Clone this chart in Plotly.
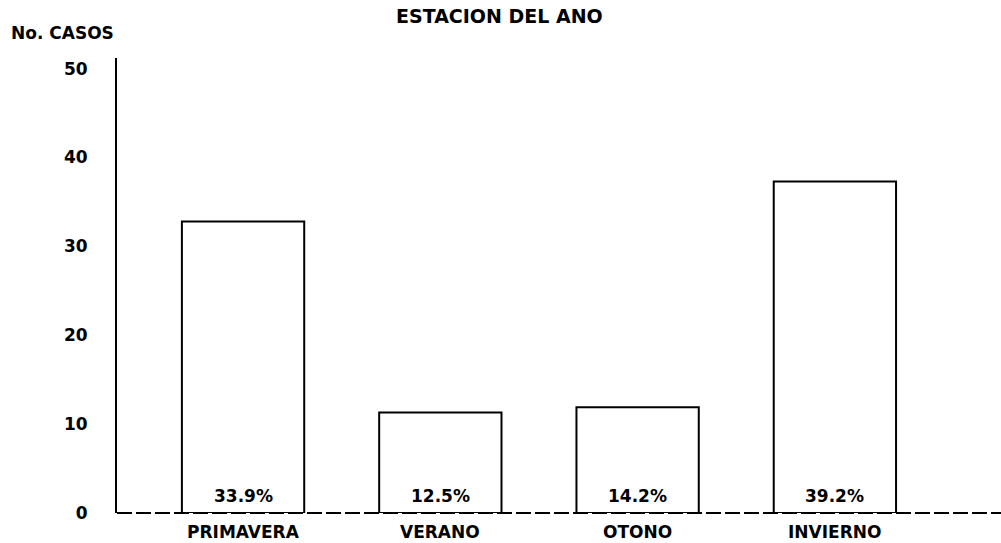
import plotly.graph_objects as go

# Data
categories = ["PRIMAVERA", "VERANO", "OTONO", "INVIERNO"]
casos = [32.8, 11.3, 11.9, 37.3]
porcentajes = ["33.9%", "12.5%", "14.2%", "39.2%"]
y_ticks = [0, 10, 20, 30, 40, 50]

FONT = "DejaVu Sans"
BLACK = "black"
TXT = dict(family=FONT, size=17, color=BLACK, weight="bold")

W, H = 1001, 543
L, R, T, B = 117, 0, 58, 30
plot_w = W - L - R
plot_h = H - T - B


def px_x(px):
    return (px - L) / plot_w


def px_y(py):
    return (H - B - py) / plot_h


fig = go.Figure(
    go.Bar(
        x=categories,
        y=casos,
        width=0.62,
        marker=dict(color="white", line=dict(color=BLACK, width=2)),
        hoverinfo="skip",
    )
)

for c, p in zip(categories, porcentajes):
    # percentage inside bar, near the base
    fig.add_annotation(
        x=c, y=0, text=p, showarrow=False, yanchor="middle", yshift=17,
        font=TXT,
    )
    # category label below the baseline
    fig.add_annotation(
        x=c, y=0, text=c, showarrow=False, yanchor="middle", yshift=-19,
        font=TXT,
    )

# dashed baseline
fig.add_shape(
    type="line", xref="paper", yref="paper", x0=0, x1=1, y0=0, y1=0,
    line=dict(color=BLACK, width=2, dash="15px,4px"),
)

fig.add_annotation(
    xref="paper", yref="paper", x=px_x(499), y=px_y(16), text="ESTACION DEL ANO",
    showarrow=False, xanchor="center", yanchor="middle",
    font=dict(family=FONT, size=19, color=BLACK, weight="bold"),
)
fig.add_annotation(
    xref="paper", yref="paper", x=px_x(9), y=px_y(33), text="No. CASOS",
    showarrow=False, xanchor="left", yanchor="middle",
    font=TXT,
)

fig.update_layout(
    width=W, height=H,
    margin=dict(l=L, r=R, t=T, b=B, pad=0),
    paper_bgcolor="white", plot_bgcolor="white",
    showlegend=False,
    font=dict(family=FONT, size=17, color=BLACK),
)
fig.update_xaxes(
    range=[-0.639, 3.842], showgrid=False, showline=False, zeroline=False,
    ticks="", showticklabels=False,
)
fig.update_yaxes(
    range=[0, 51.2], tickvals=y_ticks, showgrid=False, zeroline=False,
    showline=True, linecolor=BLACK, linewidth=2, ticks="",
    ticklabelstandoff=24, tickfont=TXT,
)

fig.write_html("out.html", config={"displayModeBar": False})

# remove the default browser body margin so the figure fills the window exactly
with open("out.html", "r", encoding="utf-8") as f:
    html = f.read()
html = html.replace("<body>", '<body style="margin:0;padding:0;overflow:hidden">', 1)
with open("out.html", "w", encoding="utf-8") as f:
    f.write(html)
